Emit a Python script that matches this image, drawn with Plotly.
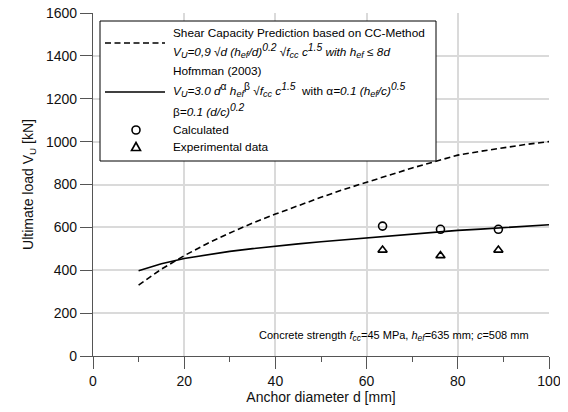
import plotly.graph_objects as go

# ---- data ----
d_curve = [10, 15, 20, 25, 30, 35, 40, 45, 50, 55, 60, 65, 70, 75, 80, 85, 90, 95, 100]
v_cc = [331, 405, 468, 524, 574, 620, 662, 702, 740, 777, 811, 845, 877, 907, 937, 955, 972, 987, 1000]
v_hof = [398, 430, 455, 473, 488, 501, 513, 523, 533, 542, 552, 561, 570, 579, 586, 592, 598, 605, 612]

d_points = [63.5, 76.2, 88.9]
v_calc = [606, 591, 591]
v_exp = [494, 468, 494]

x_ticks = [0, 20, 40, 60, 80, 100]
y_ticks = [0, 200, 400, 600, 800, 1000, 1200, 1400, 1600]

FONT = "Liberation Sans, Arial, sans-serif"
OFF = 8  # page body margin
W, H = 568 - OFF, 412 - OFF
PL, PT, PW, PH = 93, 13, 456, 343  # plot area in window pixels


def px(x):
    return (x - PL) / PW


def py(y):
    return (PT + PH - y) / PH


fig = go.Figure()
fig.add_trace(go.Scatter(x=d_curve, y=v_cc, mode="lines",
                         line=dict(color="black", width=1.6, dash="6px,3.5px"),
                         showlegend=False))
fig.add_trace(go.Scatter(x=d_curve, y=v_hof, mode="lines",
                         line=dict(color="black", width=1.6),
                         showlegend=False))
fig.add_trace(go.Scatter(x=d_points, y=v_calc, mode="markers",
                         marker=dict(symbol="circle-open", size=8, color="black",
                                     line=dict(width=1.6)),
                         showlegend=False))
fig.add_trace(go.Scatter(x=d_points, y=v_exp, mode="markers",
                         marker=dict(symbol="triangle-up-open", size=8, color="black",
                                     line=dict(width=1.6)),
                         showlegend=False))

shapes = []
# white box behind the note
shapes.append(dict(type="rect", xref="x", yref="y", x0=0.5, x1=99, y0=0, y1=158,
                   fillcolor="white", line=dict(width=0), layer="below"))
# legend box
shapes.append(dict(type="rect", xref="paper", yref="paper",
                   x0=px(100), x1=px(436), y0=py(161), y1=py(21),
                   fillcolor="white", line=dict(color="black", width=1), layer="above"))
shapes.append(dict(type="line", xref="paper", yref="paper",
                   x0=px(105), x1=px(165), y0=py(43), y1=py(43),
                   line=dict(color="black", width=1.6, dash="6px,3.5px")))
shapes.append(dict(type="line", xref="paper", yref="paper",
                   x0=px(105), x1=px(165), y0=py(92), y1=py(92),
                   line=dict(color="black", width=1.6)))
shapes.append(dict(type="circle", xref="paper", yref="paper",
                   xsizemode="pixel", ysizemode="pixel",
                   xanchor=px(136), yanchor=py(130), x0=-4, x1=4, y0=-4, y1=4,
                   line=dict(color="black", width=1.6)))
shapes.append(dict(type="path", xref="paper", yref="paper",
                   xsizemode="pixel", ysizemode="pixel",
                   xanchor=px(136), yanchor=py(147),
                   path="M -4.5 -3.5 L 4.5 -3.5 L 0 4.5 Z",
                   line=dict(color="black", width=1.6)))


def sup(t):
    return '<sup><span style="font-size:125%">' + t + '</span></sup>'


def sub(t):
    return '<sub><span style="font-size:110%">' + t + '</span></sub>'


leg_rows = [
    (33, "Shear Capacity Prediction based on CC-Method"),
    (51, "<i>V" + sub("U") + "=0,9 √d (h" + sub("ef") + "/d)" + sup("0.2") + " √f" + sub("cc")
     + " c" + sup("1.5") + " with h" + sub("ef") + " ≤ 8d</i>"),
    (71, "Hofmman (2003)"),
    (90, "<i>V" + sub("U") + "=3.0 d</i>" + sup("α") + "<i> h" + sub("ef") + "</i>" + sup("β")
     + "<i> √f" + sub("cc") + " c" + sup("1.5") + "</i>  with α<i>=0.1 (h" + sub("ef") + "/c)"
     + sup("0.5") + "</i>"),
    (110, "β<i>=0.1 (d/c)" + sup("0.2") + "</i>"),
    (130, "Calculated"),
    (147, "Experimental data"),
]
annotations = []
for yy, txt in leg_rows:
    annotations.append(dict(xref="paper", yref="paper", x=px(171), y=py(yy),
                            xanchor="left", yanchor="middle", text=txt,
                            showarrow=False, font=dict(family=FONT, size=11.8, color="black")))

annotations.append(dict(xref="x", yref="y", x=96, y=93, xanchor="right", yanchor="middle",
                        text="Concrete strength <i>f" + sub("cc") + "</i>=45 MPa, <i>h" + sub("ef")
                             + "</i>=635 mm; <i>c</i>=508 mm",
                        showarrow=False, font=dict(family=FONT, size=11, color="black")))

axis_common = dict(showline=True, linecolor="#555555", linewidth=1.3,
                   showgrid=True, gridcolor="#dadada", gridwidth=1.5,
                   zeroline=False, ticks="outside", ticklen=12, tickwidth=1.3,
                   tickcolor="#555555", mirror=False, automargin=False,
                   ticklabeloverflow="allow",
                   tickfont=dict(family=FONT, size=14, color="#111111"))

fig.update_layout(
    width=W, height=H,
    margin=dict(l=PL - OFF, r=W - (PL - OFF) - PW, t=PT - OFF, b=H - (PT - OFF) - PH,
                autoexpand=False),
    paper_bgcolor="white", plot_bgcolor="white",
    showlegend=False,
    shapes=shapes, annotations=annotations,
    xaxis=dict(range=[0, 100], tickvals=x_ticks,
               minor=dict(dtick=10, ticks="outside", ticklen=5, tickcolor="#555555", showgrid=False),
               title=dict(text="Anchor diameter d [mm]", standoff=2,
                          font=dict(family=FONT, size=14, color="#111111")),
               **axis_common),
    yaxis=dict(range=[0, 1600], tickvals=y_ticks,
               title=dict(text="Ultimate load V<sub>U</sub> [kN]", standoff=8,
                          font=dict(family=FONT, size=14, color="#111111")),
               **axis_common),
)

fig.write_html("out.html")
